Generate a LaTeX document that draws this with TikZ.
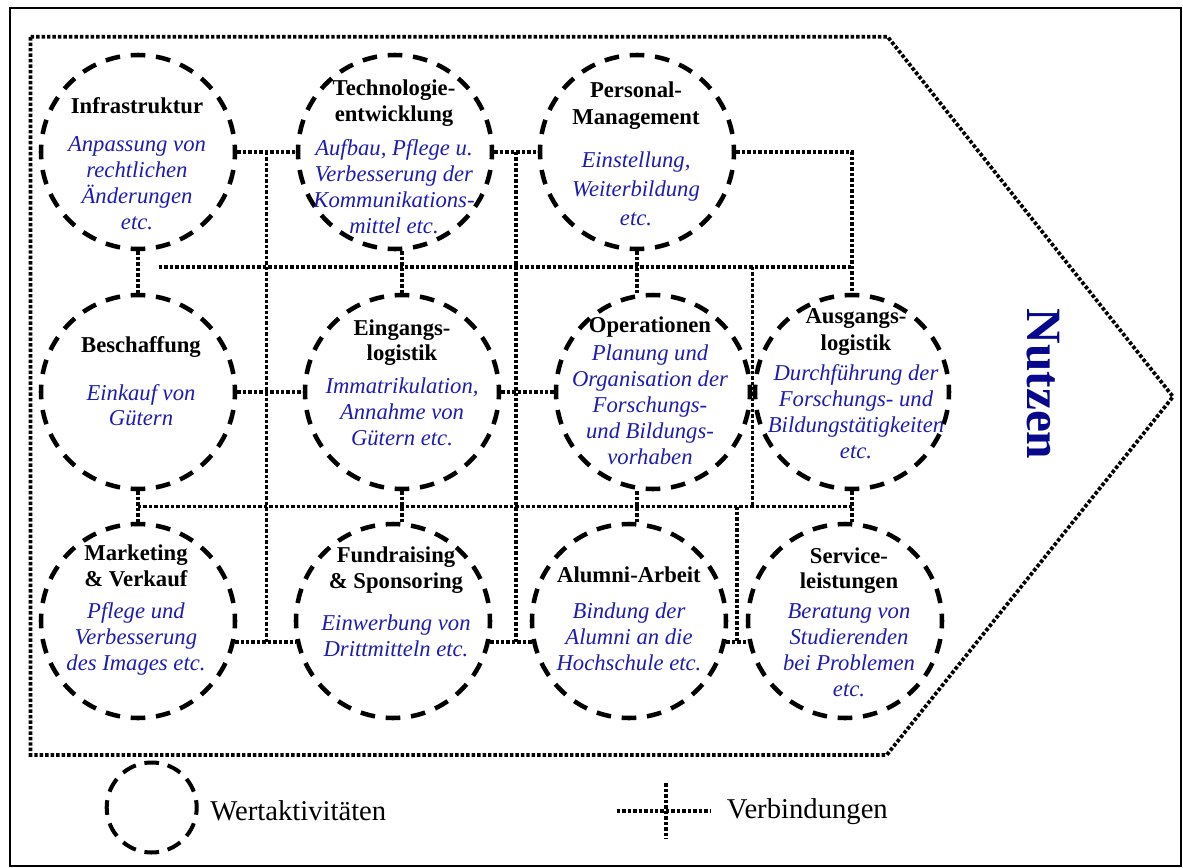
\documentclass[tikz,border=0pt]{standalone}
\usepackage{fontspec}
\setmainfont{Liberation Serif}
\usetikzlibrary{calc}

\definecolor{descblue}{RGB}{28,28,178}
\definecolor{navy}{RGB}{8,8,140}

% first-line strut so every label block has a fixed top
\newcommand\fst{\rule{0pt}{13pt}}
\newcommand\dsc[1]{\textcolor{descblue}{\itshape #1}}

\tikzset{
  act/.style={circle, draw, line width=3.4pt, minimum size=145.5pt, inner sep=0pt,
              dash pattern=on 11pt off 8.046pt, dash phase=5.5pt},
  legcirc/.style={circle, draw, line width=3pt, minimum size=67.5pt, inner sep=0pt,
              dash pattern=on 11pt off 6.67pt, dash phase=5.5pt},
  link/.style={line width=2.8pt, dash pattern=on 2.6pt off 1.5pt},
  lbl/.style={align=center, anchor=north, inner sep=0pt,
              font=\fontsize{17}{19.5}\selectfont},
  legtext/.style={anchor=base west, inner sep=0pt,
              font=\fontsize{21.5}{24}\selectfont},
}

\begin{document}
\begin{tikzpicture}[x=0.75pt, y=-0.75pt]
\useasboundingbox (0,0) rectangle (1183,868);

% outer frame
\draw[line width=1.5pt] (10,7.5) rectangle (1181,866);

% value chain arrow
\draw[link] (30.6,36.7) -- (887.6,36.7) -- (1173,396.7) -- (886.7,755) -- (30.6,755) -- cycle;

% activities (circles)
\node[act] (infra) at (138,152) {};
\node[act] (tech)  at (395,152) {};
\node[act] (pers)  at (637,152) {};
\node[act] (besch) at (138,392) {};
\node[act] (eing)  at (402,392) {};
\node[act] (oper)  at (653,392) {};
\node[act] (ausg)  at (852,392) {};
\node[act] (mark)  at (138,621) {};
\node[act] (fund)  at (393,621) {};
\node[act] (alum)  at (629,621) {};
\node[act] (serv)  at (845,621) {};

% horizontal links, row 1
\draw[link] (infra.east) -- (tech.west);
\draw[link] (tech.east) -- (pers.west);
\draw[link] (pers.east) -| (ausg.north);

% horizontal links, rows 2 and 3
\draw[link] (besch.east) -- (eing.west);
\draw[link] (eing.east) -- (oper.west);
\draw[link] (mark.-12) -- (fund.192);
\draw[link] (fund.-12) -- (alum.192);
\draw[link] (alum.-12) -- (serv.192);

% long verticals through all rows
\draw[link] ($(infra.east)!.5!(tech.west)$) coordinate (va) -- (va |- mark.-12);
\draw[link] ($(tech.east)!.5!(pers.west)$) coordinate (vb) -- (vb |- fund.-12);

% vertical links between rows
\draw[link] (infra.south) -- (besch.north);
\draw[link] (eing.north |- tech.south) -- (eing.north);
\draw[link] (pers.south) -- (pers.south |- oper.north);
\draw[link] (besch.south) -- (mark.north);
\draw[link] (eing.south) -- (eing.south |- fund.north);
\draw[link] (oper.south -| pers.south) -- (pers.south |- alum.north);
\draw[link] (ausg.south) -- (ausg.south |- serv.north);

% cross bars
\coordinate (h1w) at (159,266.7);
\draw[link] (h1w) -- (h1w -| ausg.north);
\draw[link] ($(besch.south)!.5!(mark.north)$) coordinate (h2w) -- (h2w -| ausg.south);
\path ($(oper.center)!.5!(ausg.center)$) coordinate (vc);
\draw[link] (vc |- h1w) -- (vc |- h2w);
\path ($(alum.-12)!.5!(serv.192)$) coordinate (vd);
\draw[link] (vd |- h2w) -- (vd);

% labels
\node[lbl] (infra-t) at (137,95.7) {\fst\textbf{Infrastruktur}\\[9.5pt]\dsc{Anpassung von}\\\dsc{rechtlichen}\\\dsc{Änderungen}\\\dsc{etc.}};
\node[lbl] (tech-t) at (394,77.7) {\fst\textbf{Technologie-}\\[0.5pt]\textbf{entwicklung}\\[5.5pt]\dsc{Aufbau, Pflege u.}\\\dsc{Verbesserung der}\\\dsc{Kommunikations-}\\\dsc{mittel etc.}};
\node[lbl] (pers-t) at (636,79.4) {\fst\textbf{Personal-}\\[1.3pt]\textbf{Management}\\[12.8pt]\dsc{Einstellung,}\\[2pt]\dsc{Weiterbildung}\\[2pt]\dsc{etc.}};
\node[lbl] (besch-t) at (141,334.4) {\fst\textbf{Beschaffung}\\[16.5pt]\dsc{Einkauf von}\\[-0.7pt]\dsc{Gütern}};
\node[lbl] (eing-t) at (402,317.7) {\fst\textbf{Eingangs-}\\[-0.7pt]\textbf{logistik}\\[5.3pt]\dsc{Immatrikulation,}\\\dsc{Annahme von}\\\dsc{Gütern etc.}};
\node[lbl] (oper-t) at (650,314.4) {\fst\textbf{Operationen}\\[1.7pt]\dsc{Planung und}\\\dsc{Organisation der}\\\dsc{Forschungs-}\\\dsc{und Bildungs-}\\\dsc{vorhaben}};
\node[lbl] (ausg-t) at (856,306) {\fst\textbf{Ausgangs-}\\[0.5pt]\textbf{logistik}\\[3pt]\dsc{Durchführung der}\\\dsc{Forschungs- und}\\\dsc{Bildungstätigkeiten}\\\dsc{etc.}};
\node[lbl] (mark-t) at (136,542.7) {\fst\textbf{Marketing}\\[0.5pt]\textbf{\& Verkauf}\\[4.3pt]\dsc{Pflege und}\\\dsc{Verbesserung}\\\dsc{des Images etc.}};
\node[lbl] (fund-t) at (396,544.4) {\fst\textbf{Fundraising}\\[0.5pt]\textbf{\& Sponsoring}\\[11.8pt]\dsc{Einwerbung von}\\\dsc{Drittmitteln etc.}};
\node[lbl] (alum-t) at (629,564.4) {\fst\textbf{Alumni-Arbeit}\\[8pt]\dsc{Bindung der}\\\dsc{Alumni an die}\\\dsc{Hochschule etc.}};
\node[lbl] (serv-t) at (849,546) {\fst\textbf{Service-}\\[-0.7pt]\textbf{leistungen}\\[3pt]\dsc{Beratung von}\\\dsc{Studierenden}\\\dsc{bei Problemen}\\\dsc{etc.}};

% benefit label
\node[rotate=-90, inner sep=0pt, text=navy, font=\fontsize{37}{40}\selectfont\bfseries] (nutzen) at (1043,384) {Nutzen};

% legend
\node[legcirc] (legc) at (151.7,807.5) {};
\node[legtext] (legc-t) at (210,820) {Wertaktivitäten};
\coordinate (lw) at (616.7,811);
\coordinate (le) at (710,811);
\coordinate (ln) at (665.7,783.3);
\coordinate (ls) at (665.7,838.3);
\draw[link] (lw) -- (le);
\draw[link] (ln) -- (ls);
\node[legtext] (legl-t) at (726.7,818.3) {Verbindungen};
\end{tikzpicture}
\end{document}
